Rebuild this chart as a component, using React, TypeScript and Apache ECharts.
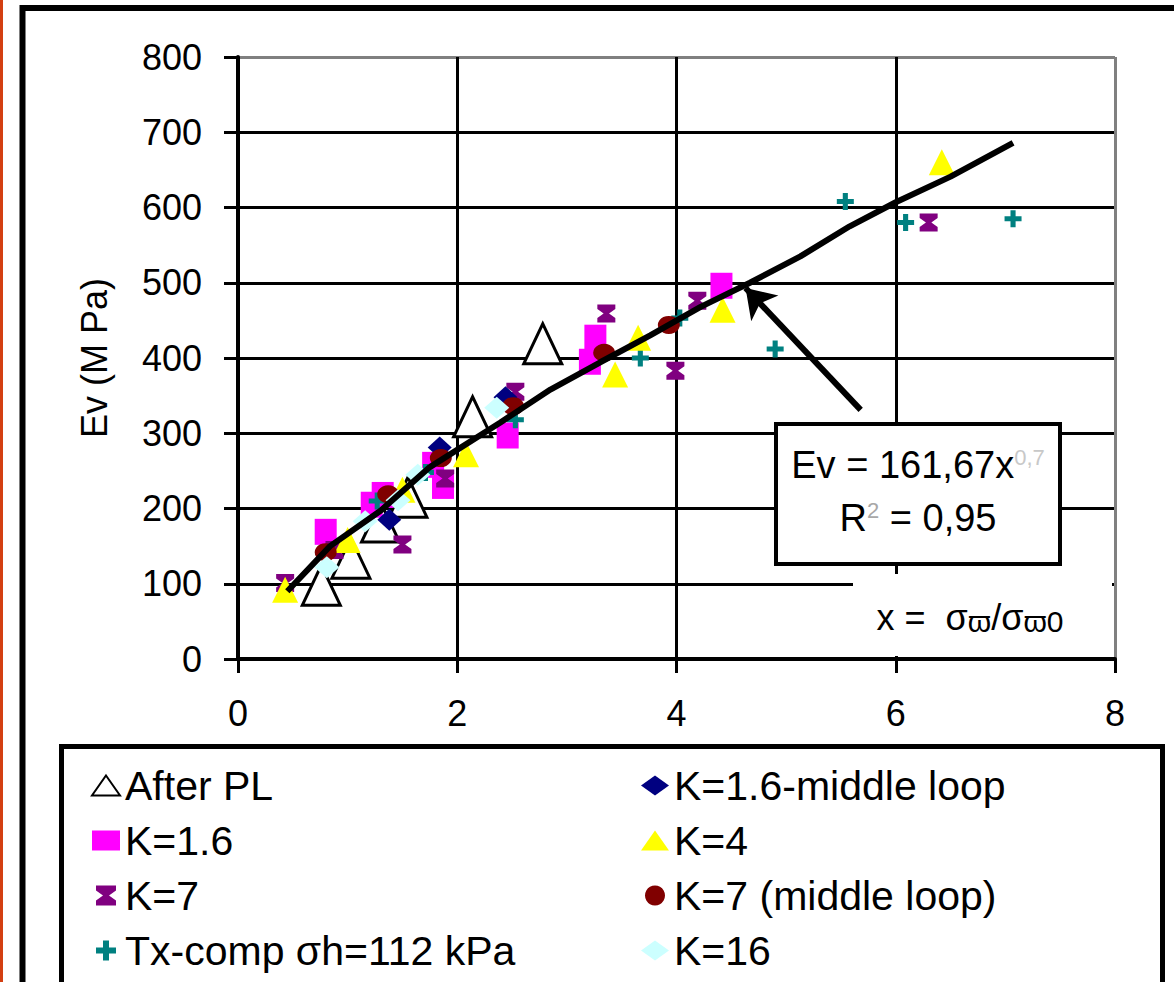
import React, { useEffect, useRef } from 'react';
import * as echarts from 'echarts';

const FONT = '"Liberation Sans", Arial, sans-serif';

// Data: [x = σv/σv0, Ev (MPa)]
const afterPL = [[0.76, 98], [1.03, 134], [1.30, 182], [1.55, 215], [2.14, 322], [2.78, 419]];
const k16ml = [[1.38, 185], [1.84, 281], [2.44, 348]];
const k16 = [[0.80, 169], [1.22, 205], [1.32, 218], [1.78, 258], [1.87, 230], [2.46, 297], [3.21, 395], [3.26, 427], [4.41, 496]];
const k4 = [[0.43, 92], [1.0, 158], [1.5, 225], [2.08, 272], [3.44, 378], [3.65, 427], [4.42, 464], [6.42, 660]];
const k7 = [[0.43, 101], [0.88, 145], [1.50, 152], [1.89, 240], [2.53, 355], [3.36, 459], [3.99, 383], [4.19, 476], [6.30, 580]];
const k7ml = [[0.80, 142], [1.37, 219], [1.85, 267], [2.51, 336], [3.34, 407], [3.93, 444]];
const txComp = [[1.27, 210], [1.71, 248], [2.53, 318], [3.67, 400], [4.03, 453], [4.90, 412], [5.54, 608], [6.09, 580], [7.07, 585]];
const kSixteen = [[0.81, 122], [1.16, 183], [1.46, 211], [1.64, 245], [2.36, 334]];
const trend = [[0.45, 90], [0.84, 150], [1.3, 197], [1.75, 255], [2.39, 314], [2.85, 358], [3.3, 394], [3.76, 430], [4.22, 468], [4.67, 500], [5.13, 535], [5.58, 575], [6.0, 607], [6.5, 641], [7.07, 686]];
const arrowFrom = [5.68, 331];
const arrowTo = [4.63, 493];

const X_MIN = 0, X_MAX = 8, X_STEP = 2;
const Y_MIN = 0, Y_MAX = 800, Y_STEP = 100;

const legendLeft = ['After PL', 'K=1.6', 'K=7', 'Tx-comp σh=112 kPa'];
const legendRight = ['K=1.6-middle loop', 'K=4', 'K=7 (middle loop)', 'K=16'];

const HOURGLASS = 'path://M0,0H10V2.5L6.5,5L10,7.5V10H0V7.5L3.5,5L0,2.5Z';
const PLUS = 'path://M3.5,0H6.5V3.5H10V6.5H6.5V10H3.5V6.5H0V3.5H3.5Z';

export default function App() {
  const ref = useRef<HTMLDivElement>(null);
  useEffect(() => {
    const chart = echarts.init(ref.current!, null, { renderer: 'svg' });
    const ySplit = Array.from({ length: 9 }, (_, i) => (i === 8 ? '#808080' : '#000'));
    const xSplit = Array.from({ length: 5 }, (_, i) => (i === 4 ? '#808080' : '#000'));
    const legendCommon = {
      orient: 'vertical',
      top: 760,
      itemGap: 14,
      itemWidth: 28,
      itemHeight: 20,
      textStyle: { fontSize: 41, color: '#000', fontFamily: FONT, lineHeight: 40 },
      selectedMode: false,
    };
    chart.setOption({
      animation: false,
      backgroundColor: '#fff',
      textStyle: { fontFamily: FONT },
      grid: { left: 238, right: 59, top: 57, bottom: 323, containLabel: false },
      xAxis: {
        type: 'value', min: X_MIN, max: X_MAX, interval: X_STEP,
        axisLine: { show: true, onZero: false, lineStyle: { color: '#000', width: 4 } },
        axisTick: { show: true, length: 14, lineStyle: { color: '#000', width: 3 } },
        axisLabel: { fontSize: 36, color: '#000', margin: 36, fontFamily: FONT },
        splitLine: { show: true, lineStyle: { color: xSplit, width: 3 } },
      },
      yAxis: {
        type: 'value', min: Y_MIN, max: Y_MAX, interval: Y_STEP,
        name: 'Ev (M Pa)', nameLocation: 'middle', nameRotate: 90, nameGap: 126,
        nameTextStyle: { fontSize: 36, color: '#000', fontFamily: FONT },
        axisLine: { show: true, onZero: false, lineStyle: { color: '#000', width: 4 } },
        axisTick: { show: true, length: 14, lineStyle: { color: '#000', width: 3 } },
        axisLabel: { fontSize: 36, color: '#000', margin: 36, fontFamily: FONT },
        splitLine: { show: true, lineStyle: { color: ySplit, width: 3 } },
      },
      legend: [
        { ...legendCommon, left: 86, data: legendLeft },
        { ...legendCommon, left: 636, data: legendRight },
      ],
      series: [
        { name: 'After PL', type: 'scatter', data: afterPL, symbol: 'triangle', symbolSize: [38, 40],
          itemStyle: { color: '#fff', borderColor: '#000', borderWidth: 3, opacity: 1 } },
        { name: 'K=1.6', type: 'scatter', data: k16, symbol: 'rect', symbolSize: [22, 26],
          itemStyle: { color: '#ff00ff', opacity: 1 } },
        { name: 'K=7', type: 'scatter', data: k7, symbol: HOURGLASS, symbolSize: [18, 18],
          itemStyle: { color: '#800080', opacity: 1 } },
        { name: 'Tx-comp σh=112 kPa', type: 'scatter', data: txComp, symbol: PLUS, symbolSize: [17, 17],
          itemStyle: { color: '#008080', opacity: 1 } },
        { name: 'K=1.6-middle loop', type: 'scatter', data: k16ml, symbol: 'diamond', symbolSize: [24, 22],
          itemStyle: { color: '#000080', opacity: 1 } },
        { name: 'K=4', type: 'scatter', data: k4, symbol: 'triangle', symbolSize: [26, 26],
          itemStyle: { color: '#ffff00', opacity: 1 } },
        { name: 'K=7 (middle loop)', type: 'scatter', data: k7ml, symbol: 'circle', symbolSize: [22, 18],
          itemStyle: { color: '#800000', opacity: 1 } },
        { name: 'K=16', type: 'scatter', data: kSixteen, symbol: 'diamond', symbolSize: [25, 22],
          itemStyle: { color: '#ccffff', opacity: 1 } },
        { name: 'trend', type: 'line', data: trend, showSymbol: false, symbol: 'none', z: 5,
          lineStyle: { color: '#000', width: 6 }, itemStyle: { color: '#000' },
          markLine: {
            silent: true, symbol: ['none', 'arrow'], symbolSize: 28, animation: false,
            label: { show: false },
            lineStyle: { color: '#000', width: 6, type: 'solid' },
            data: [[{ coord: arrowFrom }, { coord: arrowTo }]],
          } },
      ],
      graphic: [
        { type: 'rect', z: 0, shape: { x: 0, y: 0, width: 3, height: 982 }, style: { fill: '#d33f12' } },
        { type: 'rect', z: 0, shape: { x: 22.5, y: 8, width: 1200, height: 1000 }, style: { fill: 'none', stroke: '#000', lineWidth: 6 } },
        { type: 'rect', z: 1, shape: { x: 61.5, y: 746.5, width: 1101, height: 300 }, style: { fill: '#fff', stroke: '#000', lineWidth: 5 } },
        { type: 'rect', z: 10, shape: { x: 853, y: 574, width: 259, height: 82 }, style: { fill: '#fff' } },
        { type: 'text', z: 11, x: 970, y: 617, style: {
            text: 'x =  σ{sub|ϖ}/σ{sub|ϖ0}', align: 'center', verticalAlign: 'middle',
            fontSize: 36, fill: '#000', fontFamily: FONT,
            rich: { sub: { fontSize: 30, fill: '#000', fontFamily: FONT, verticalAlign: 'bottom', padding: [8, 0, 0, 0] } },
          } },
        { type: 'rect', z: 10, shape: { x: 776, y: 424, width: 284, height: 140 }, style: { fill: '#fff', stroke: '#000', lineWidth: 4 } },
        { type: 'text', z: 11, x: 918, y: 465, style: {
            text: 'Ev = 161,67x{sup|0,7}', align: 'center', verticalAlign: 'middle',
            fontSize: 38, fill: '#000', fontFamily: FONT,
            rich: { sup: { fontSize: 22, fill: '#c8c8c8', fontFamily: FONT, verticalAlign: 'top', padding: [0, 0, 14, 0] } },
          } },
        { type: 'text', z: 11, x: 918, y: 518, style: {
            text: 'R{sup|2} = 0,95', align: 'center', verticalAlign: 'middle',
            fontSize: 38, fill: '#000', fontFamily: FONT,
            rich: { sup: { fontSize: 22, fill: '#a8a8a8', fontFamily: FONT, verticalAlign: 'top', padding: [0, 0, 14, 0] } },
          } },
      ],
    });
    return () => chart.dispose();
  }, []);
  return <div ref={ref} style={{ position: 'fixed', left: 0, top: 0, width: 1174, height: 982, background: '#fff' }} />;
}
